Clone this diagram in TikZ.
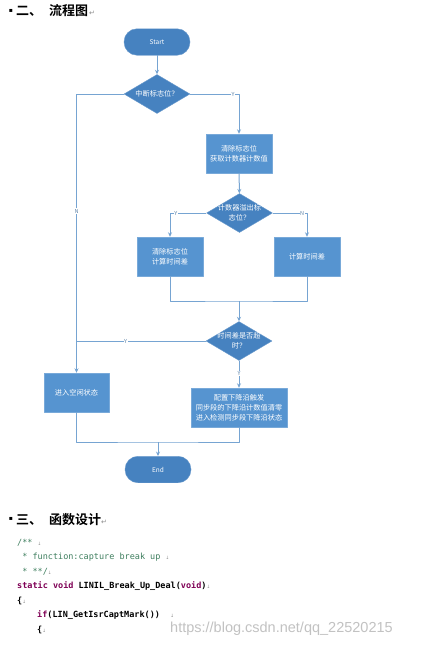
\documentclass[tikz,border=0pt]{standalone}
\usepackage{fontspec}
\newfontfamily\cjk{Noto Sans CJK SC}[BoldFont={Noto Sans CJK SC Bold}]
\newfontfamily\symfont{DejaVu Sans}
\newfontfamily\codefont{DejaVu Sans Mono}
\newfontfamily\webfont{Liberation Sans}
\usetikzlibrary{shapes.geometric,arrows.meta}
\definecolor{boxblue}{RGB}{86,148,208}
\definecolor{diablue}{RGB}{70,130,192}
\definecolor{lineblue}{RGB}{118,164,210}
\definecolor{cmtgreen}{RGB}{63,127,95}
\definecolor{kwpurple}{RGB}{127,0,85}
\begin{document}
\begin{tikzpicture}[x=1pt,y=-1pt,line join=round,>={Stealth[length=4.5pt,width=4pt]}]
			\tikzset{proc/.style={rectangle,fill=boxblue,draw=boxblue!80!white,text=white,minimum width=66pt,minimum height=39pt,inner sep=1pt,align=center,font=\cjk\fontsize{7.2}{10}\selectfont}}
			\tikzset{decision/.style={diamond,aspect=1.7,fill=diablue,draw=diablue!80!white,text=white,minimum width=66pt,minimum height=39pt,inner sep=-4pt,align=center,font=\cjk\fontsize{7.2}{10}\selectfont}}
			\tikzset{term/.style={rectangle,rounded corners=13pt,fill=diablue,draw=diablue!80!white,text=white,minimum width=66pt,minimum height=26.5pt,font=\cjk\fontsize{6.5}{8}\selectfont}}
			\tikzset{conn/.style={draw=lineblue,line width=1pt}}
			\tikzset{lbl/.style={fill=white,inner sep=0.6pt,text=lineblue!80!black,font=\cjk\fontsize{5.5}{6}\selectfont}}
			\tikzset{head/.style={anchor=base west,inner sep=0pt,font=\cjk\bfseries\fontsize{13}{14}\selectfont}}
			\tikzset{retmark/.style={anchor=base west,inner sep=0pt,text=black!45,font=\symfont\fontsize{7}{8}\selectfont}}
			\tikzset{code/.style={anchor=base west,inner sep=0pt,font=\codefont\fontsize{8.5}{10}\selectfont}}
			\useasboundingbox (0,0) rectangle (423,645);
			\fill[white] (0,0) rectangle (423,645);
			% heading
			\node[inner sep=0pt,font=\symfont\fontsize{6}{6}\selectfont] (dot1) at (11,11) {▪};
			\node[head] (h1a) at (16,16) {二、};
			\node[head] (h1b) at (49,16) {流程图};
			\node[retmark] (r1) at (89,16) {↵};
			% flow chart
			\node[term] (start) at (157,42) {Start};
			\node[decision] (d1) at (157,94) {中断标志位？};
			\node[proc] (clr) at (239,153.5) {清除标志位\\获取计数器计数值};
			\node[decision] (d2) at (239.5,213) {计数器溢出标\\志位？};
			\node[proc] (calc1) at (170,256.5) {清除标志位\\计算时间差};
			\node[proc] (calc2) at (307,256.5) {计算时间差};
			\node[decision] (d3) at (239,341) {时间差是否超\\时？};
			\node[proc,minimum width=65pt] (idle) at (76.5,392.5) {进入空闲状态};
			\node[proc,minimum width=96pt] (cfg) at (239,407.5) {配置下降沿触发\\同步段的下降沿计数值清零\\进入检测同步段下降沿状态};
			\node[term] (end) at (158,469.5) {End};
			\coordinate (mrg) at (239,301);
			\coordinate (jn) at (158,442);
			\draw[conn,->] (start) -- (d1);
			\draw[conn,->] (d1.west) -| node[lbl,pos=0.71] {N} (idle.north);
			\draw[conn,->] (d1.east) -| node[lbl,pos=0.44] {Y} (clr.north);
			\draw[conn,->] (clr) -- (d2);
			\draw[conn,->] (d2.west) -| node[lbl,pos=0.42] {Y} (calc1.north);
			\draw[conn,->] (d2.east) -| node[lbl,pos=0.43] {N} (calc2.north);
			\draw[conn] (calc1.south) |- (mrg) -| (calc2.south);
			\draw[conn,->] (mrg) -- (d3);
			\draw[conn] (d3.west) -- node[lbl,pos=0.62] {Y} (d3.west -| idle.north);
			\draw[conn,->] (d3.south) -- node[lbl,pos=0.46] {Y} (cfg.north);
			\draw[conn] (idle.south) |- (jn) -| (cfg.south);
			\draw[conn,->] (jn) -- (end);
			% second heading
			\node[inner sep=0pt,font=\symfont\fontsize{6}{6}\selectfont] (dot2) at (11,519) {▪};
			\node[head] (h2a) at (16,524) {三、};
			\node[head] (h2b) at (49,524) {函数设计};
			\node[retmark] (r2) at (101,524) {↵};
			% code
			\node[code,text=cmtgreen] (c1) at (17,545) {/**\hphantom{x}\textcolor{black!45}{\symfont\fontsize{4.5}{5}\selectfont ↓}};
			\node[code,text=cmtgreen] (c2) at (17,559.5) {\hphantom{x}* function:capture break up\hphantom{x}\textcolor{black!45}{\symfont\fontsize{4.5}{5}\selectfont ↓}};
			\node[code,text=cmtgreen] (c3) at (17,574) {\hphantom{x}* **/\textcolor{black!45}{\symfont\fontsize{4.5}{5}\selectfont ↓}};
			\node[code,font=\codefont\bfseries\fontsize{8.5}{10}\selectfont] (c4) at (17,588.5) {\textcolor{kwpurple}{static void} LINIL\_Break\_Up\_Deal(\textcolor{kwpurple}{void})\textcolor{black!45}{\mdseries\symfont\fontsize{4.5}{5}\selectfont ↓}};
			\node[code,font=\codefont\bfseries\fontsize{8.5}{10}\selectfont] (c5) at (17,603) {\{\textcolor{black!45}{\mdseries\symfont\fontsize{4.5}{5}\selectfont ↓}};
			\node[code,font=\codefont\bfseries\fontsize{8.5}{10}\selectfont] (c6) at (37,617.5) {\textcolor{kwpurple}{if}(LIN\_GetIsrCaptMark())\hphantom{xx}\textcolor{black!45}{\mdseries\symfont\fontsize{4.5}{5}\selectfont ↓}};
			\node[code,font=\codefont\bfseries\fontsize{8.5}{10}\selectfont] (c7) at (37,632) {\{\textcolor{black!45}{\mdseries\symfont\fontsize{4.5}{5}\selectfont ↓}};
			\node[anchor=base west,inner sep=0pt,text=black!24,font=\webfont\fontsize{14.5}{15}\selectfont] (wm) at (170,632) {https://blog.csdn.net/qq\_22520215};
		\end{tikzpicture}
\end{document}
